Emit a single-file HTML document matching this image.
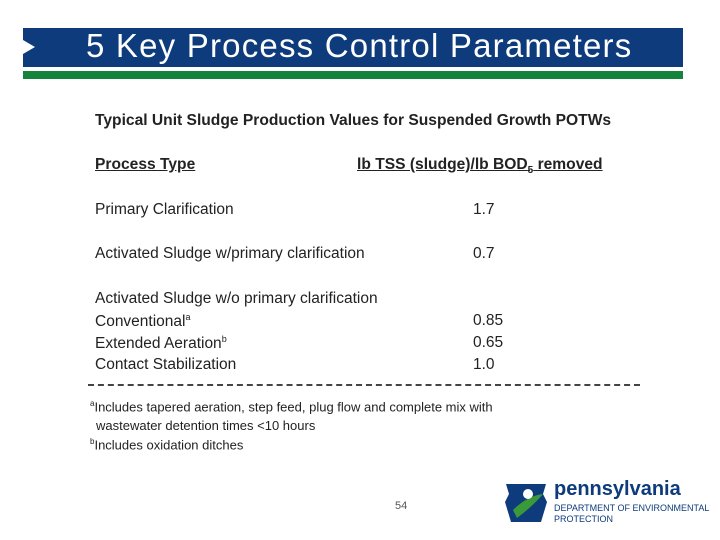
<!DOCTYPE html>
<html><head><meta charset="utf-8"><style>
body{margin:0;width:720px;height:540px;background:#fff;position:relative;overflow:hidden;font-family:"Liberation Sans",Arial,sans-serif;}
.a{position:absolute;white-space:nowrap;color:#222;}
.t{font-size:15.5px;}
.b{font-weight:bold;font-size:15.6px;}
.s{font-size:13px;}
</style></head><body>
<div class="a" style="left:23px;top:28px;width:660px;height:39px;background:#0d3b7c;"></div>
<div class="a" style="left:23px;top:40px;width:0;height:0;border-top:7px solid transparent;border-bottom:7px solid transparent;border-left:12px solid #fff;"></div>
<div class="a" style="left:86px;top:27px;font-size:33px;color:#fff;letter-spacing:1.2px;">5 Key Process Control Parameters</div>
<div class="a" style="left:23px;top:71px;width:660px;height:8px;background:#14843c;"></div>

<div class="a b" style="left:95px;top:112px;">Typical Unit Sludge Production Values for Suspended Growth POTWs</div>
<div class="a b" style="left:95px;top:156px;text-decoration:underline;">Process Type</div>
<div class="a b" style="left:357px;top:156px;text-decoration:underline;">lb TSS (sludge)/lb BOD<sub style="font-size:10px">5</sub> removed</div>

<div class="a t" style="left:95px;top:201px;">Primary Clarification</div>
<div class="a t" style="left:473px;top:201px;">1.7</div>
<div class="a t" style="left:95px;top:245px;">Activated Sludge w/primary clarification</div>
<div class="a t" style="left:473px;top:245px;">0.7</div>
<div class="a t" style="left:95px;top:290px;">Activated Sludge w/o primary clarification</div>
<div class="a t" style="left:95px;top:312px;">Conventional<sup style="font-size:9px">a</sup></div>
<div class="a t" style="left:473px;top:312px;">0.85</div>
<div class="a t" style="left:95px;top:334px;">Extended Aeration<sup style="font-size:9px">b</sup></div>
<div class="a t" style="left:473px;top:334px;">0.65</div>
<div class="a t" style="left:95px;top:356px;">Contact Stabilization</div>
<div class="a t" style="left:473px;top:356px;">1.0</div>
<div class="a" style="left:88px;top:384px;width:552px;border-top:2px dashed #444;"></div>

<div class="a s" style="left:90px;top:399px;"><sup style="font-size:8px">a</sup>Includes tapered aeration, step feed, plug flow and complete mix with</div>
<div class="a s" style="left:96px;top:418px;">wastewater detention times &lt;10 hours</div>
<div class="a s" style="left:90px;top:437px;"><sup style="font-size:8px">b</sup>Includes oxidation ditches</div>

<div class="a" style="left:395px;top:500px;font-size:11px;color:#555;">54</div>

<svg class="a" style="left:503px;top:480px;" width="46" height="44" viewBox="0 0 46 44">
<path d="M3 4 L43 4 L40 14 L44 22 L38 42 L8 42 L2 22 L6 14 Z" fill="#0d3b7c"/>
<path d="M10 30 Q24 16 40 14 Q30 26 14 38 Z" fill="#3a9a3a"/>
<circle cx="25" cy="14" r="5" fill="#fff"/>
</svg>
<div class="a" style="left:554px;top:478px;font-size:20px;font-weight:bold;color:#0d3b7c;">pennsylvania</div>
<div class="a" style="left:554px;top:503px;font-size:9px;color:#0d3b7c;">DEPARTMENT OF ENVIRONMENTAL</div>
<div class="a" style="left:554px;top:514px;font-size:9px;color:#0d3b7c;">PROTECTION</div>
</body></html>
